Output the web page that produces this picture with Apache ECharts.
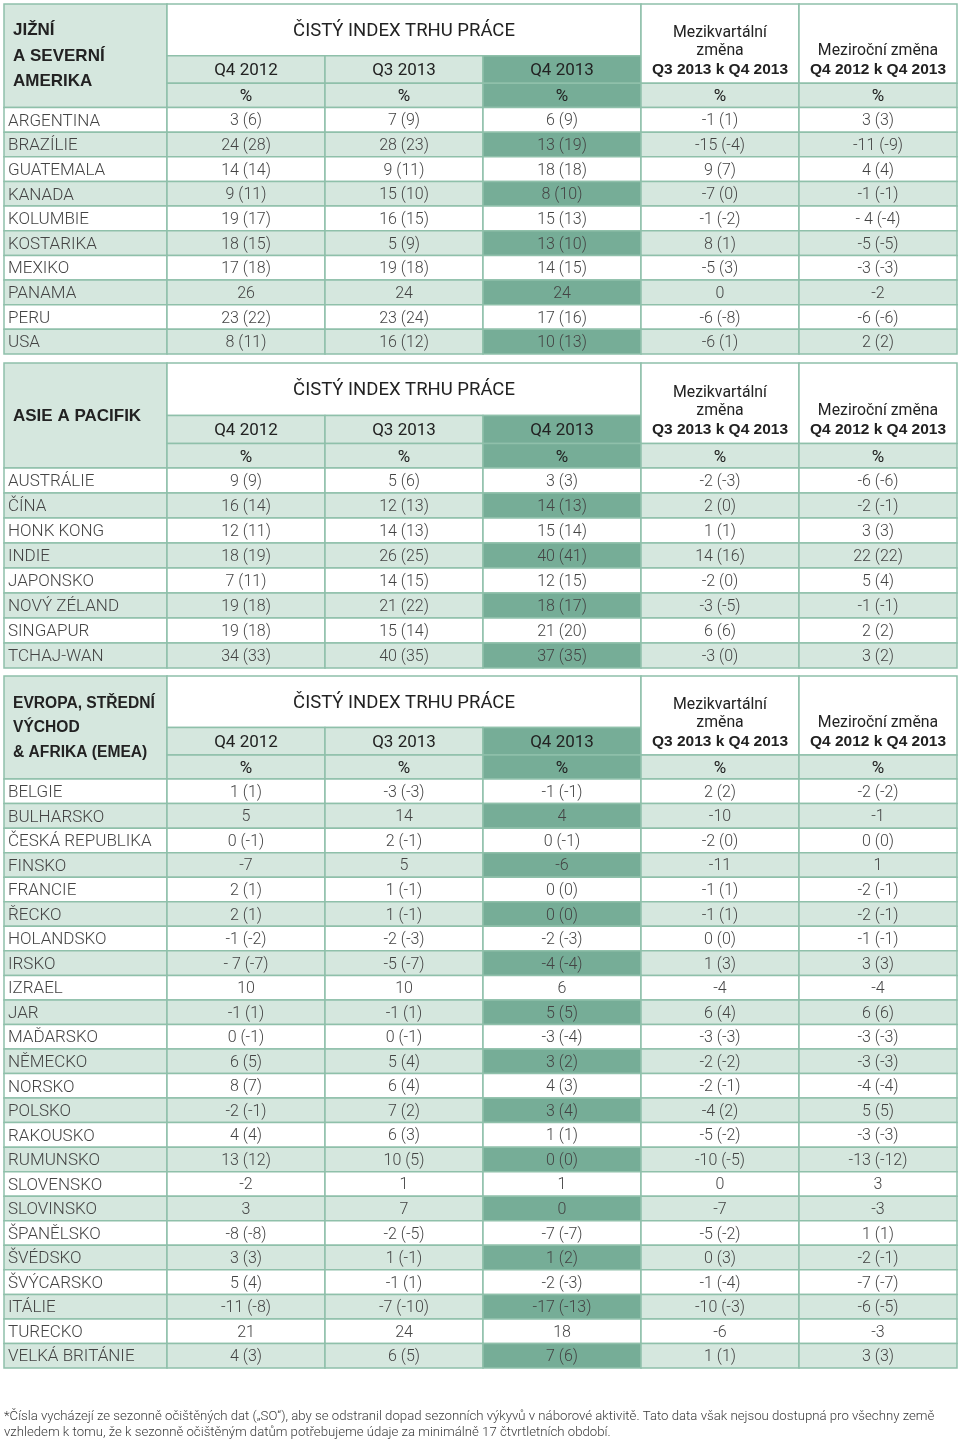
<!DOCTYPE html>
<html><head><meta charset="utf-8">
<script src="https://cdn.jsdelivr.net/npm/echarts@6/dist/echarts.min.js"></script>
<style>html,body{margin:0;padding:0;background:#fff}#c{width:960px;height:1440px}</style>
</head><body><div id="c"></div>
<script>
// ---------- DATA ----------
const headIndex = 'ČISTÝ INDEX TRHU PRÁCE';
const colHeads = ['Q4 2012', 'Q3 2013', 'Q4 2013'];
const unitLabel = '%';
const qoqHead = ['Mezikvartální', 'změna', 'Q3 2013 k Q4 2013'];
const yoyHead = ['Meziroční změna', 'Q4 2012 k Q4 2013'];

const amTitle = ['JIŽNÍ', 'A SEVERNÍ', 'AMERIKA'];
const amNames = ['ARGENTINA','BRAZÍLIE','GUATEMALA','KANADA','KOLUMBIE','KOSTARIKA','MEXIKO','PANAMA','PERU','USA'];
const amQ4_2012 = ['3 (6)','24 (28)','14 (14)','9 (11)','19 (17)','18 (15)','17 (18)','26','23 (22)','8 (11)'];
const amQ3_2013 = ['7 (9)','28 (23)','9 (11)','15 (10)','16 (15)','5 (9)','19 (18)','24','23 (24)','16 (12)'];
const amQ4_2013 = ['6 (9)','13 (19)','18 (18)','8 (10)','15 (13)','13 (10)','14 (15)','24','17 (16)','10 (13)'];
const amQoQ = ['-1 (1)','-15 (-4)','9 (7)','-7 (0)','-1 (-2)','8 (1)','-5 (3)','0','-6 (-8)','-6 (1)'];
const amYoY = ['3 (3)','-11 (-9)','4 (4)','-1 (-1)','- 4 (-4)','-5 (-5)','-3 (-3)','-2','-6 (-6)','2 (2)'];

const apTitle = ['ASIE A PACIFIK'];
const apNames = ['AUSTRÁLIE','ČÍNA','HONK KONG','INDIE','JAPONSKO','NOVÝ ZÉLAND','SINGAPUR','TCHAJ-WAN'];
const apQ4_2012 = ['9 (9)','16 (14)','12 (11)','18 (19)','7 (11)','19 (18)','19 (18)','34 (33)'];
const apQ3_2013 = ['5 (6)','12 (13)','14 (13)','26 (25)','14 (15)','21 (22)','15 (14)','40 (35)'];
const apQ4_2013 = ['3 (3)','14 (13)','15 (14)','40 (41)','12 (15)','18 (17)','21 (20)','37 (35)'];
const apQoQ = ['-2 (-3)','2 (0)','1 (1)','14 (16)','-2 (0)','-3 (-5)','6 (6)','-3 (0)'];
const apYoY = ['-6 (-6)','-2 (-1)','3 (3)','22 (22)','5 (4)','-1 (-1)','2 (2)','3 (2)'];

const emTitle = ['EVROPA, STŘEDNÍ', 'VÝCHOD', '& AFRIKA (EMEA)'];
const emNames = ['BELGIE','BULHARSKO','ČESKÁ REPUBLIKA','FINSKO','FRANCIE','ŘECKO','HOLANDSKO','IRSKO','IZRAEL','JAR','MAĎARSKO','NĚMECKO','NORSKO','POLSKO','RAKOUSKO','RUMUNSKO','SLOVENSKO','SLOVINSKO','ŠPANĚLSKO','ŠVÉDSKO','ŠVÝCARSKO','ITÁLIE','TURECKO','VELKÁ BRITÁNIE'];
const emQ4_2012 = ['1 (1)','5','0 (-1)','-7','2 (1)','2 (1)','-1 (-2)','- 7 (-7)','10','-1 (1)','0 (-1)','6 (5)','8 (7)','-2 (-1)','4 (4)','13 (12)','-2','3','-8 (-8)','3 (3)','5 (4)','-11 (-8)','21','4 (3)'];
const emQ3_2013 = ['-3 (-3)','14','2 (-1)','5','1 (-1)','1 (-1)','-2 (-3)','-5 (-7)','10','-1 (1)','0 (-1)','5 (4)','6 (4)','7 (2)','6 (3)','10 (5)','1','7','-2 (-5)','1 (-1)','-1 (1)','-7 (-10)','24','6 (5)'];
const emQ4_2013 = ['-1 (-1)','4','0 (-1)','-6','0 (0)','0 (0)','-2 (-3)','-4 (-4)','6','5 (5)','-3 (-4)','3 (2)','4 (3)','3 (4)','1 (1)','0 (0)','1','0','-7 (-7)','1 (2)','-2 (-3)','-17 (-13)','18','7 (6)'];
const emQoQ = ['2 (2)','-10','-2 (0)','-11','-1 (1)','-1 (1)','0 (0)','1 (3)','-4','6 (4)','-3 (-3)','-2 (-2)','-2 (-1)','-4 (2)','-5 (-2)','-10 (-5)','0','-7','-5 (-2)','0 (3)','-1 (-4)','-10 (-3)','-6','1 (1)'];
const emYoY = ['-2 (-2)','-1','0 (0)','1','-2 (-1)','-2 (-1)','-1 (-1)','3 (3)','-4','6 (6)','-3 (-3)','-3 (-3)','-4 (-4)','5 (5)','-3 (-3)','-13 (-12)','3','-3','1 (1)','-2 (-1)','-7 (-7)','-6 (-5)','-3','3 (3)'];

const footnote = '*Čísla vycházejí ze sezonně očištěných dat („SO“), aby se odstranil dopad sezonních výkyvů v náborové aktivitě. Tato data však nejsou dostupná pro všechny země\nvzhledem k tomu, že k sezonně očištěným datům potřebujeme údaje za minimálně 17 čtvrtletních období.';

// ---------- LAYOUT / STYLE ----------
const LW = 163 / 158;                 // label column width in column units
const HEAD = [2.1, 1.12, 0.98];        // header row heights in data-row units
const HT = HEAD[0] + HEAD[1] + HEAD[2];
const LIGHT = '#d5e7de', DARK = '#76ad97', LINE = '#8fc0aa', WHITE = '#ffffff';
const FONT_L = 'Roboto, "Liberation Sans", sans-serif';
const FONT_B = '"Liberation Sans", Arial, sans-serif';
const TXT = '#444444', HTXT = '#222222';
const DY = 1.5; // glyph centering nudge

const sections = [
  { title: amTitle, titleSize: 17, titleLH: 25.5, names: amNames, cols: [amQ4_2012, amQ3_2013, amQ4_2013, amQoQ, amYoY], top: 4, height: 350 },
  { title: apTitle, titleSize: 17, titleLH: 25.5, names: apNames, cols: [apQ4_2012, apQ3_2013, apQ4_2013, apQoQ, apYoY], top: 363, height: 305 },
  { title: emTitle, titleSize: 15.6, titleLH: 24.5, names: emNames, cols: [emQ4_2012, emQ3_2013, emQ4_2013, emQoQ, emYoY], top: 676, height: 692 }
];

function buildCells(sec) {
  const cells = [];
  const yQ = HEAD[0], yP = HEAD[0] + HEAD[1];
  cells.push({ x0: 0, y0: 0, x1: LW, y1: HT, fill: LIGHT, kind: 'title', lines: sec.title, size: sec.titleSize, lh: sec.titleLH });
  cells.push({ x0: LW, y0: 0, x1: LW + 3, y1: yQ, fill: WHITE, kind: 'center',
    lines: [{ t: headIndex, size: 18.5, bold: false, pos: 'mid', dy: DY }] });
  colHeads.forEach((h, k) => {
    cells.push({ x0: LW + k, y0: yQ, x1: LW + k + 1, y1: yP, fill: k === 2 ? DARK : LIGHT, kind: 'center',
      lines: [{ t: h, size: 17, bold: false, pos: 'mid', dy: DY }] });
  });
  cells.push({ x0: LW + 3, y0: 0, x1: LW + 4, y1: yP, fill: WHITE, kind: 'center',
    lines: [
      { t: qoqHead[0], size: 15.8, bold: false, pos: 'bot', dy: -50 },
      { t: qoqHead[1], size: 15.8, bold: false, pos: 'bot', dy: -32 },
      { t: qoqHead[2], size: 15.5, bold: true, pos: 'bot', dy: -13.5 }] });
  cells.push({ x0: LW + 4, y0: 0, x1: LW + 5, y1: yP, fill: WHITE, kind: 'center',
    lines: [
      { t: yoyHead[0], size: 15.8, bold: false, pos: 'bot', dy: -32 },
      { t: yoyHead[1], size: 15.5, bold: true, pos: 'bot', dy: -13.5 }] });
  for (let k = 0; k < 5; k++) {
    cells.push({ x0: LW + k, y0: yP, x1: LW + k + 1, y1: HT, fill: k === 2 ? DARK : LIGHT, kind: 'center',
      lines: [{ t: unitLabel, size: 17, bold: false, pos: 'mid', dy: DY }] });
  }
  sec.names.forEach((n, i) => {
    const shaded = i % 2 === 1;
    cells.push({ x0: 0, y0: HT + i, x1: LW, y1: HT + i + 1, fill: shaded ? LIGHT : WHITE, kind: 'name', text: n });
    sec.cols.forEach((col, k) => {
      cells.push({ x0: LW + k, y0: HT + i, x1: LW + k + 1, y1: HT + i + 1,
        fill: shaded ? (k === 2 ? DARK : LIGHT) : WHITE, kind: 'value', text: col[i] });
    });
  });
  return cells;
}

function txt(text, x, y, align, size, bold, color, light) {
  return {
    type: 'text',
    style: {
      text: text, x: x, y: y,
      align: align, verticalAlign: 'middle',
      textAlign: align, textVerticalAlign: 'middle',
      fontSize: size,
      fontFamily: bold ? FONT_B : FONT_L,
      fontWeight: bold ? 'bold' : (light ? 300 : 'normal'),
      fill: color
    }
  };
}

function makeRender(cells) {
  return function (params, api) {
    const c = cells[params.dataIndex];
    const p0 = api.coord([api.value(0), api.value(1)]);
    const p1 = api.coord([api.value(2), api.value(3)]);
    const x = Math.min(p0[0], p1[0]), y = Math.min(p0[1], p1[1]);
    const w = Math.abs(p1[0] - p0[0]), h = Math.abs(p1[1] - p0[1]);
    const children = [{
      type: 'rect', shape: { x: x, y: y, width: w, height: h },
      style: { fill: c.fill, stroke: LINE, lineWidth: 1.5 }
    }];
    const cx = x + w / 2, cy = y + h / 2;
    if (c.kind === 'title') {
      const n = c.lines.length;
      c.lines.forEach((t, j) => {
        children.push(txt(t, x + 9, cy + 0.5 + (j - (n - 1) / 2) * c.lh, 'left', c.size, true, HTXT));
      });
    } else if (c.kind === 'center') {
      c.lines.forEach(l => {
        const yy = l.pos === 'bot' ? y + h + l.dy : cy + l.dy;
        children.push(txt(l.t, cx, yy, 'center', l.size, l.bold, HTXT, false));
      });
    } else if (c.kind === 'name') {
      children.push(txt(c.text, x + 4, cy + DY, 'left', 17, false, TXT, true));
    } else {
      children.push(txt(c.text, cx, cy + DY, 'center', 16, false, TXT, true));
    }
    return { type: 'group', children: children };
  };
}

const grids = [], xAxes = [], yAxes = [], series = [];
sections.forEach((sec, s) => {
  const cells = buildCells(sec);
  grids.push({ left: 4, width: 953, top: sec.top, height: sec.height });
  xAxes.push({ type: 'value', gridIndex: s, min: 0, max: LW + 5, show: false });
  yAxes.push({ type: 'value', gridIndex: s, min: 0, max: HT + sec.names.length, inverse: true, show: false });
  series.push({
    type: 'custom', xAxisIndex: s, yAxisIndex: s, clip: false, silent: true,
    renderItem: makeRender(cells),
    encode: { x: [0, 2], y: [1, 3] },
    data: cells.map(c => [c.x0, c.y0, c.x1, c.y1])
  });
});

const chart = echarts.init(document.getElementById('c'), null, { renderer: 'canvas' });
chart.setOption({
  animation: false,
  backgroundColor: '#ffffff',
  title: {
    text: footnote, left: 4, top: 1408, padding: 0,
    textStyle: { fontSize: 13.2, fontWeight: 300, fontFamily: FONT_L, color: '#3a3a3a', lineHeight: 16.5 }
  },
  grid: grids, xAxis: xAxes, yAxis: yAxes, series: series
});
</script>
</body></html>
